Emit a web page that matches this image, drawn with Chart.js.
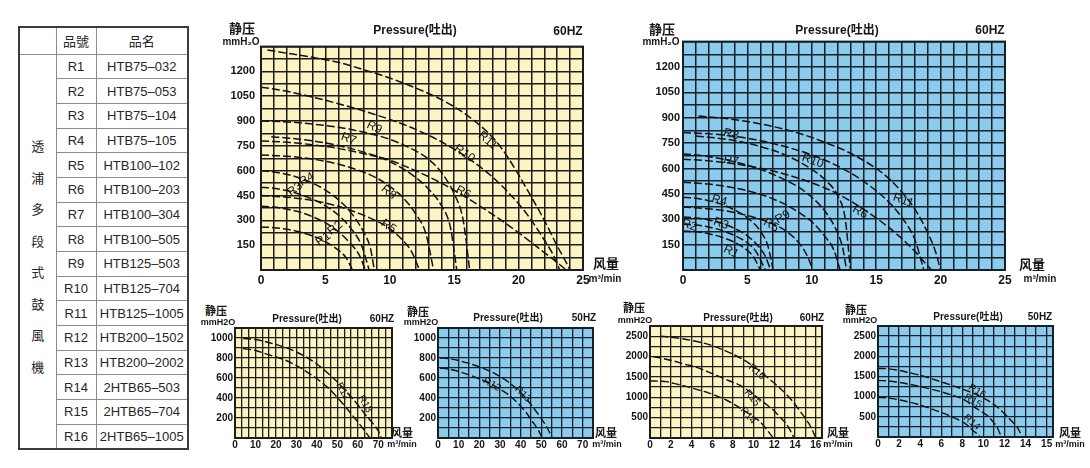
<!DOCTYPE html>
<html lang="zh">
<head>
<meta charset="utf-8">
<title>HTB blower performance curves</title>
<script src="https://cdn.jsdelivr.net/npm/chart.js@4.4.1/dist/chart.umd.min.js"></script>
<style>
html,body{margin:0;padding:0;background:#fff}
body{position:relative;width:1090px;height:468px;overflow:hidden;font-family:"Liberation Sans",Arial,"Noto Sans CJK SC",sans-serif}
canvas{position:absolute}
.lbl{position:absolute;white-space:nowrap;color:#161616;line-height:1;transform:translate(-50%,-50%);font-family:"Liberation Sans",Arial,"Noto Sans CJK SC",sans-serif}
#tbl{position:absolute;left:18px;top:26px;border-collapse:collapse;table-layout:fixed;border:2px solid #3c3c3c;font-size:13px;color:#262626;font-family:"Liberation Sans",Arial,"Noto Sans CJK TC",sans-serif}
#tbl td{border:1px solid #8c8c8c;text-align:center;padding:0;white-space:nowrap}
</style>
</head>
<body>
<table id="tbl"></table>
<canvas id="cA"></canvas>
<canvas id="cB"></canvas>
<canvas id="cC"></canvas>
<canvas id="cD"></canvas>
<canvas id="cE"></canvas>
<canvas id="cF"></canvas>
<div id="texts"></div>
<script>
// ================= DATA =================
// Model table
const modelCodes = ['R1','R2','R3','R4','R5','R6','R7','R8','R9','R10','R11','R12','R13','R14','R15','R16'];
const modelNames = ['HTB75–032','HTB75–053','HTB75–104','HTB75–105','HTB100–102','HTB100–203','HTB100–304','HTB100–505',
  'HTB125–503','HTB125–704','HTB125–1005','HTB200–1502','HTB200–2002','2HTB65–503','2HTB65–704','2HTB65–1005'];
const seriesTitle = '透浦多段式鼓風機';

// Tick labels
const bigXTicks = [0,5,10,15,20,25];
const bigXLabels = ['0','5','10','15','20','25'];
const bigYTicks = [150,300,450,600,750,900,1050,1200];
const midXTicks = [0,10,20,30,40,50,60,70];
const midXLabels = ['0','10','20','30','40','50','60','70'];
const midYTicks = [200,400,600,800,1000];
const smallXTicks = [0,2,4,6,8,10,12,14,16];
const smallXLabels60 = ['0','2','4','6','8','10','12','14','16'];
const smallXLabels50 = ['0','2','4','6','8','10','12','14','15'];
const smallYTicks = [500,1000,1500,2000,2500];

// Chart A: R1–R11, 60HZ  [flow m³/min, pressure mmH2O]
const a_R1  = [[0,260],[1,256],[2,246],[3,230],[4,206],[5,172],[6,120],[6.6,75],[7.1,0]];
const a_R2  = [[0,385],[1,380],[2,368],[3,350],[4,322],[5,285],[6,232],[7,155],[7.6,95],[8.1,0]];
const a_R3  = [[0,500],[1,494],[2,480],[3,458],[4,428],[5,388],[6,332],[7,250],[7.8,150],[8.4,0]];
const a_R4  = [[0,600],[1,592],[2,578],[3,556],[4,525],[5,483],[6,425],[7,345],[8,225],[8.5,130],[8.8,0]];
const a_R5  = [[0,450],[2,440],[4,420],[6,385],[8,330],[9,295],[10,250],[11,180],[11.7,110],[12.3,0]];
const a_R6  = [[0,780],[2,772],[4,757],[6,735],[8,703],[10,663],[12,600],[14,525],[16,435],[18,335],[20,225],[22,105],[23,45],[23.7,0]];
const a_R7  = [[0.8,805],[2,798],[4,780],[6,752],[8,712],[10,655],[12,560],[13,490],[14,390],[14.7,260],[15.2,0]];
const a_R8  = [[0,695],[2,688],[4,670],[6,640],[8,590],[9,555],[10,505],[11,440],[12,340],[12.8,220],[13.4,0]];
const a_R9  = [[0,900],[2,895],[4,882],[6,862],[8,832],[10,790],[12,720],[13,670],[14,590],[15,460],[15.7,300],[16.2,0]];
const a_R10 = [[0,1105],[2,1080],[4,1045],[6,1005],[8,960],[10,910],[12,850],[14,775],[16,680],[18,560],[20,400],[21,300],[22,180],[22.7,90],[23.2,0]];
const a_R11 = [[0.5,1330],[2,1310],[4,1285],[6,1255],[8,1210],[10,1160],[12,1100],[14,1030],[16,935],[18,800],[19,700],[20,575],[21,440],[22,300],[23,145],[23.6,60],[24,0]];

// Chart B: R1–R11, second frequency
const b_R1  = [[0,230],[1,226],[2,214],[3,194],[4,164],[5,115],[5.5,75],[6.0,0]];
const b_R2  = [[0,270],[1,266],[2,254],[3,234],[4,204],[5,160],[5.7,105],[6.4,0]];
const b_R3  = [[0,313],[1,308],[2,296],[3,276],[4,246],[5,202],[5.8,145],[6.4,80],[6.8,0]];
const b_R4  = [[0,430],[1,424],[2,410],[3,388],[4,355],[5,308],[6,230],[6.6,140],[7.0,0]];
const b_R5  = [[0,372],[2,362],[4,340],[6,300],[7,272],[8,230],[9,160],[9.6,90],[10.1,0]];
const b_R6  = [[0,655],[2,645],[4,628],[6,602],[8,565],[10,515],[12,450],[14,360],[16,250],[17,185],[18,110],[18.7,50],[19.3,0]];
const b_R7  = [[0,685],[1,680],[2,670],[4,640],[6,595],[8,530],[9,488],[10,430],[11,350],[12,220],[12.4,130],[12.7,0]];
const b_R8  = [[1,792],[2,785],[4,765],[6,730],[8,678],[10,595],[11,535],[12,440],[12.6,300],[13.0,0]];
const b_R9  = [[0,518],[2,508],[4,485],[6,448],[7,420],[8,385],[9,340],[10,285],[11,200],[11.7,120],[12.2,0]];
const b_R10 = [[0,812],[2,805],[4,790],[6,765],[8,728],[10,680],[12,615],[14,525],[16,400],[17,310],[18,180],[18.7,0]];
const b_R11 = [[1.2,910],[3,898],[5,878],[7,848],[9,808],[11,755],[13,690],[15,600],[16,540],[17,460],[18,360],[19,220],[19.6,110],[20,0]];

// Chart C: R12/R13, 60HZ
const c_R12 = [[4,895],[10,875],[15,842],[20,810],[25,775],[30,725],[35,662],[40,592],[45,510],[50,405],[53,335],[56,260],[59.3,177],[62.5,95],[65.9,0]];
const c_R13 = [[4,995],[10,985],[15,962],[20,935],[25,903],[30,860],[35,806],[40,740],[45,655],[50,560],[53,495],[57,405],[61,306],[64,225],[67.5,140],[70,70],[71.5,0]];

// Chart D: R12/R13, 50HZ
const d_R12 = [[1,700],[5,690],[10,665],[15,632],[20,592],[25,545],[30,488],[35,418],[40,318],[43,245],[46,155],[48.5,80],[50.4,0]];
const d_R13 = [[1,800],[5,795],[10,775],[15,745],[20,712],[25,670],[30,615],[35,545],[40,455],[44,360],[47,280],[50,195],[52.5,115],[55.3,0]];

// Chart E: R14–R16, 60HZ
const e_R14 = [[0,1400],[1,1395],[1.6,1385],[2.5,1330],[3.5,1266],[4.5,1195],[5.4,1129],[6.4,1035],[7.4,927],[8.2,815],[9,686],[9.8,550],[10.6,403],[11.2,230],[11.9,0]];
const e_R15 = [[0.3,2000],[1,1965],[2.2,1895],[3.3,1815],[4.5,1734],[5.6,1625],[6.7,1508],[7.7,1400],[8.7,1290],[9.5,1160],[10.3,1008],[11.1,850],[11.9,686],[12.5,525],[13.1,363],[13.5,200],[13.9,0]];
const e_R16 = [[1,2500],[2,2475],[3.5,2420],[5,2340],[6.1,2258],[7,2170],[8,2057],[9,1925],[9.9,1774],[11,1560],[11.5,1452],[12.3,1280],[13.1,1089],[13.8,890],[14.4,686],[15,480],[15.5,282],[16,0]];

// Chart F: R14–R16, 50HZ
const f_R14 = [[0,980],[1,965],[2,920],[3,862],[4,790],[5,705],[6,610],[6.8,524],[7.5,440],[8.1,363],[8.6,265],[9,161],[9.4,80],[9.7,0]];
const f_R15 = [[0,1400],[1,1390],[2,1355],[3,1305],[4,1250],[5,1190],[6,1120],[7,1040],[7.8,968],[8.5,870],[9,766],[9.7,650],[10.4,524],[10.9,380],[11.3,242],[11.7,0]];
const f_R16 = [[0,1700],[1,1690],[2,1650],[3,1590],[4,1530],[5,1450],[6,1365],[7,1280],[8,1190],[9,1090],[10,960],[11,806],[11.6,680],[12.2,524],[12.8,360],[13.2,242],[13.7,0]];

// Curve tags: [text, flow, pressure, rotation°]
const a_tags = [['R11',17.6,782,40],['R10',15.8,704,35],['R9',8.8,861,25],['R7',6.8,792,20],['R6',15.7,469,28],['R8',9.9,469,40],
  ['R5',9.9,264,35],['R4',3.55,548,-30],['R3',2.64,489,-40],['R2',5.75,254,-38],['R1',4.84,186,-35]];
const b_tags = [['R8',3.73,802,15],['R7',3.73,645,10],['R10',10.07,645,20],['R4',2.82,411,15],['R3',2.95,274,20],['R2',0.49,264,20],
  ['R1',3.73,108,25],['R9',7.74,313,-30],['R5',6.83,264,30],['R6',13.74,342,30],['R11',17.1,411,20]];
const c_tags = [['R12',52.7,467,60],['R13',63.5,340,60]];
const d_tags = [['R12',26.1,535,30],['R13',41.1,438,45]];
const e_tags = [['R16',10.3,1625,40],['R15',9.85,980,50],['R14',9.46,550,50]];
const f_tags = [['R16',9.4,1133,30],['R15',9.0,892,30],['R14',8.9,362,40]];

// ================= TABLE =================
(function(){
  let h = '<colgroup><col style="width:37px"><col style="width:40px"><col style="width:92px"></colgroup>';
  h += '<tr style="height:27px"><td></td><td>品號</td><td>品名</td></tr>';
  modelCodes.forEach((c, i) => {
    h += '<tr style="height:24.7px">';
    if (i === 0) h += '<td rowspan="16" style="line-height:31.5px;padding-top:12px;vertical-align:middle">' + [...seriesTitle].join('<br>') + '</td>';
    h += '<td>' + c + '</td><td>' + modelNames[i] + '</td></tr>';
  });
  document.getElementById('tbl').innerHTML = h;
})();

// ================= CHARTS =================
Chart.defaults.font.family = '"Liberation Sans", Arial, sans-serif';
const YELLOW = '#fcf5c3', BLUE = '#8dcbec';
const INK_Y = '#1c1c1c', INK_B = '#14202a';

function steps(max, step){ const out=[]; for(let i=0;i*step<=max+1e-9;i++) out.push(i*step); return out; }
function tickText(vals, labels, v){ const i = vals.findIndex(t => Math.abs(t - v) < 1e-6); return i >= 0 ? labels[i] : ''; }

function build(cfg){
  const cv = document.getElementById(cfg.id);
  cv.width = cfg.box[2]; cv.height = cfg.box[3];
  cv.style.left = cfg.box[0] + 'px'; cv.style.top = cfg.box[1] + 'px';
  const [pl, pt, pr, pb] = cfg.plot;
  const yW = pl - cfg.box[0];
  const xH = cfg.box[1] + cfg.box[3] - pb;
  const ink = cfg.bg === YELLOW ? INK_Y : INK_B;
  const deco = {
    id: 'deco_' + cfg.id,
    beforeDraw(ch){ const {ctx, chartArea:a} = ch; ctx.save(); ctx.fillStyle = cfg.bg; ctx.fillRect(a.left, a.top, a.right-a.left, a.bottom-a.top); ctx.restore(); },
    afterDatasetsDraw(ch){
      const {ctx, scales:{x, y}} = ch;
      ctx.save(); ctx.fillStyle = '#111'; ctx.font = cfg.tagFont; ctx.textAlign = 'center'; ctx.textBaseline = 'middle';
      cfg.tags.forEach(([t, vx, vy, r]) => { ctx.save(); ctx.translate(x.getPixelForValue(vx), y.getPixelForValue(vy)); ctx.rotate(r*Math.PI/180); ctx.fillText(t, 0, 0); ctx.restore(); });
      ctx.restore();
    },
    afterDraw(ch){ const {ctx, chartArea:a} = ch; ctx.save(); ctx.strokeStyle = ink; ctx.lineWidth = 2; ctx.strokeRect(a.left, a.top, a.right-a.left, a.bottom-a.top); ctx.restore(); }
  };
  new Chart(cv, {
    type: 'scatter',
    data: { datasets: cfg.series.map(s => ({
      data: s.map(p => ({x:p[0], y:p[1]})), showLine:true, pointRadius:0, borderColor:'#111111',
      borderWidth:cfg.lineW, borderDash:[8,3], cubicInterpolationMode:'monotone', fill:false })) },
    options: {
      responsive:false, animation:false, devicePixelRatio:1,
      layout:{ padding:{ left:0, top: pt - cfg.box[1], right: cfg.box[0] + cfg.box[2] - pr, bottom:0 } },
      plugins:{ legend:{display:false}, tooltip:{enabled:false} },
      scales:{
        x:{ type:'linear', min:0, max:cfg.xMax,
          afterBuildTicks: s => { s.ticks = steps(cfg.xMax, cfg.xStep).map(v => ({value:v})); },
          afterFit: s => { s.height = xH; },
          grid:{ color:ink, lineWidth:cfg.gridW, drawTicks:false },
          border:{ display:true, color:ink, width:2 },
          ticks:{ autoSkip:false, maxRotation:0, padding:cfg.xPad, color:'#141414', font:{size:cfg.xFont, weight:'bold'},
            callback: v => tickText(cfg.xTicks, cfg.xLabels, v) } },
        y:{ type:'linear', min:0, max:cfg.yMax,
          afterBuildTicks: s => { s.ticks = steps(cfg.yMax, cfg.yStep).map(v => ({value:v})); },
          afterFit: s => { s.width = yW; },
          grid:{ color:ink, lineWidth:cfg.gridW, drawTicks:false },
          border:{ display:true, color:ink, width:2 },
          ticks:{ autoSkip:false, padding:cfg.yPad, color:'#141414', font:{size:cfg.yFont, weight:'bold'},
            callback: v => tickText(cfg.yTicks, cfg.yTicks.map(String), v) } }
      }
    },
    plugins:[deco]
  });
}

const TAG_BIG = '12px "Liberation Sans", Arial', TAG_SMALL = '10px "Liberation Sans", Arial';
build({ id:'cA', box:[212,34,388,262], plot:[261,40,583,270], bg:YELLOW, xMax:25, xStep:1, yMax:1350, yStep:75,
  xTicks:bigXTicks, xLabels:bigXLabels, yTicks:bigYTicks, xPad:3, yPad:6, xFont:12, yFont:11, gridW:1.5, lineW:1.5,
  series:[a_R1,a_R2,a_R3,a_R4,a_R5,a_R6,a_R7,a_R8,a_R9,a_R10,a_R11], tags:a_tags, tagFont:TAG_BIG });
build({ id:'cB', box:[636,32,384,264], plot:[683,38,1005,270], bg:BLUE, xMax:25, xStep:1, yMax:1350, yStep:75,
  xTicks:bigXTicks, xLabels:bigXLabels, yTicks:bigYTicks, xPad:3, yPad:3, xFont:12, yFont:11, gridW:1.5, lineW:1.5,
  series:[b_R1,b_R2,b_R3,b_R4,b_R5,b_R6,b_R7,b_R8,b_R9,b_R10,b_R11], tags:b_tags, tagFont:TAG_BIG });
build({ id:'cC', box:[200,320,198,136], plot:[235,325,392,438], bg:YELLOW, xMax:230/3, xStep:10/3, yMax:1100, yStep:100,
  xTicks:midXTicks, xLabels:midXLabels, yTicks:midYTicks, xPad:1, yPad:2, xFont:10, yFont:10, gridW:1.3, lineW:1.4,
  series:[c_R12,c_R13], tags:c_tags, tagFont:TAG_SMALL });
build({ id:'cD', box:[403,320,196,136], plot:[438,325,593,438], bg:BLUE, xMax:75, xStep:5, yMax:1100, yStep:100,
  xTicks:midXTicks, xLabels:midXLabels, yTicks:midYTicks, xPad:1, yPad:2, xFont:10, yFont:10, gridW:1.3, lineW:1.4,
  series:[d_R12,d_R13], tags:d_tags, tagFont:TAG_SMALL });
build({ id:'cE', box:[615,318,213,138], plot:[650,323,822,438], bg:YELLOW, xMax:16.6, xStep:1, yMax:2750, yStep:250,
  xTicks:smallXTicks, xLabels:smallXLabels60, yTicks:smallYTicks, xPad:1, yPad:2, xFont:10, yFont:10, gridW:1.3, lineW:1.4,
  series:[e_R14,e_R15,e_R16], tags:e_tags, tagFont:TAG_SMALL });
build({ id:'cF', box:[843,318,216,138], plot:[878,323,1053,437], bg:BLUE, xMax:16.6, xStep:1, yMax:2750, yStep:250,
  xTicks:smallXTicks, xLabels:smallXLabels50, yTicks:smallYTicks, xPad:1, yPad:2, xFont:10, yFont:10, gridW:1.3, lineW:1.4,
  series:[f_R14,f_R15,f_R16], tags:f_tags, tagFont:TAG_SMALL });

// ================= TEXT LABELS =================
const texts = [
  ['静压',242,28,13,700], ['mmH₂O',241,42,10,700], ['Pressure(吐出)',415,30,12,700], ['60HZ',568,31,12,700],
  ['风量',606,263,13,700], ['m³/min',605,279,10,700],
  ['静压',662,29,13,700], ['mmH₂O',661,42,10,700], ['Pressure(吐出)',837,30,12,700], ['60HZ',990,30,12,700],
  ['风量',1032,264,13,700], ['m³/min',1040,279,10,700],
  ['静压',216,311,11,700], ['mmH2O',218,322,9,700], ['Pressure(吐出)',307,319,10,700], ['60HZ',382,319,10,700],
  ['风量',402,433,11,700], ['m³/min',402,444,9,700],
  ['静压',418,312,11,700], ['mmH2O',421,322,9,700], ['Pressure(吐出)',508,318,10,700], ['50HZ',584,318,10,700],
  ['风量',606,433,11,700], ['m³/min',607,444,9,700],
  ['静压',634,308,11,700], ['mmH2O',635,320,9,700], ['Pressure(吐出)',738,318,10,700], ['60HZ',812,318,10,700],
  ['风量',838,433,11,700], ['m³/min',838,444,9,700],
  ['静压',856,310,11,700], ['mmH2O',860,320,9,700], ['Pressure(吐出)',968,317,10,700], ['50HZ',1040,317,10,700],
  ['风量',1070,433,11,700], ['m³/min',1070,444,9,700]
];
const holder = document.getElementById('texts');
texts.forEach(([t, x, y, s, w]) => {
  const d = document.createElement('div');
  d.className = 'lbl'; d.textContent = t;
  d.style.left = x + 'px'; d.style.top = y + 'px'; d.style.fontSize = s + 'px'; d.style.fontWeight = w;
  holder.appendChild(d);
});
</script>
</body>
</html>
